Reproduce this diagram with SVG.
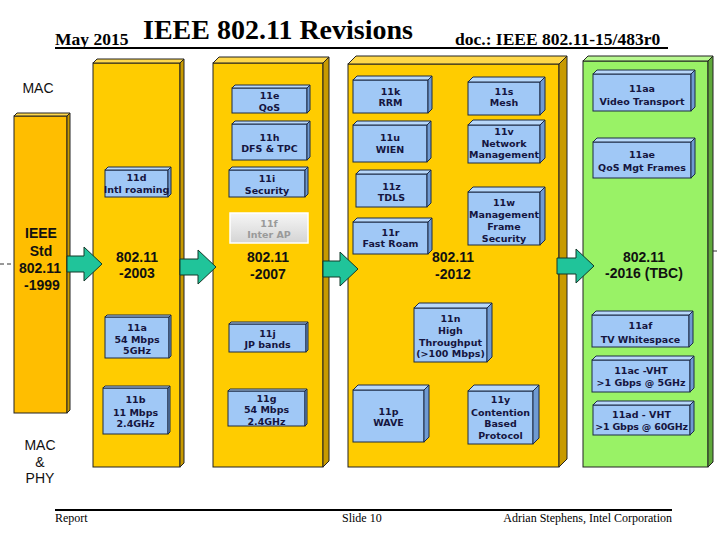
<svg xmlns="http://www.w3.org/2000/svg" width="720" height="540" viewBox="0 0 720 540">
<style>
.col{fill:#FFCC00;stroke:#222;stroke-width:1}
.col1{fill:#FFBE00;stroke:#222;stroke-width:1}
.ctop{fill:#FFD84A;stroke:#222;stroke-width:1}
.cside{fill:#C89A00;stroke:#222;stroke-width:1}
.gcol{fill:#99F266;stroke:#222;stroke-width:1}
.gtop{fill:#B8F890;stroke:#222;stroke-width:1}
.gside{fill:#5FA83A;stroke:#222;stroke-width:1}
.bf{fill:#A0C8F6;stroke:#1C2A44;stroke-width:1}
.bt{fill:#B8D8FA;stroke:#1C2A44;stroke-width:1}
.bs{fill:#6F9AD2;stroke:#1C2A44;stroke-width:1}
.tx{font-family:"DejaVu Sans",Verdana,sans-serif;font-weight:bold;font-size:9.5px;fill:#15153F;text-anchor:middle}
.cl{font-family:"Liberation Sans",Arial,sans-serif;font-weight:bold;font-size:14px;fill:#111;text-anchor:middle}
.lab{font-family:"Liberation Sans",Arial,sans-serif;font-size:14px;fill:#111;text-anchor:middle}
.hd{font-family:"Liberation Serif","Times New Roman",serif;font-weight:bold;fill:#000}
.ft{font-family:"Liberation Serif","Times New Roman",serif;font-size:12px;fill:#000}
.arr{fill:#20C49A;stroke:#123828;stroke-width:1}
</style>
<defs>
<linearGradient id="gf" x1="0" y1="0" x2="0" y2="1">
<stop offset="0" stop-color="#F6F6F6"/>
<stop offset="1" stop-color="#D4D4D4"/>
</linearGradient>
</defs>
<rect width="720" height="540" fill="#FFFFFF"/>

<g id="header">
<text class="hd" x="55" y="45" font-size="17.5">May 2015</text>
<text class="hd" x="143" y="39" font-size="28">IEEE 802.11 Revisions</text>
<text class="hd" x="455" y="45" font-size="17.5">doc.: IEEE 802.11-15/483r0</text>
<line x1="55" y1="48" x2="668" y2="48" stroke="#000" stroke-width="2"/>
</g>

<g id="separators" stroke="#333" stroke-width="1" stroke-dasharray="4,3">
<line x1="0" y1="264" x2="14" y2="264"/>
<line x1="713" y1="251" x2="720" y2="251"/>
</g>

<g id="labels">
<text class="lab" x="38" y="93">MAC</text>
<text class="lab" x="40" y="450">MAC</text>
<text class="lab" x="40" y="467">&amp;</text>
<text class="lab" x="40" y="483">PHY</text>
</g>

<g id="col-1999">
<rect class="col1" x="14" y="116" width="53" height="297"/>
<polygon class="ctop" points="14,116 17,113 70,113 67,116"/>
<polygon class="cside" points="67,116 70,113 70,410 67,413"/>
<text class="cl" x="41" y="238">IEEE</text>
<text class="cl" x="41" y="256">Std</text>
<text class="cl" x="40" y="273">802.11</text>
<text class="cl" x="42" y="290">-1999</text>
</g>

<g id="col-2003">
<rect class="col" x="93" y="63" width="87" height="404"/>
<polygon class="ctop" points="93,63 97,59 184,59 180,63"/>
<polygon class="cside" points="180,63 184,59 184,463 180,467"/>
<text class="cl" x="137" y="262">802.11</text>
<text class="cl" x="137" y="278">-2003</text>
</g>

<g id="col-2007">
<rect class="col" x="213" y="63" width="110" height="404"/>
<polygon class="ctop" points="213,63 219,57 329,57 323,63"/>
<polygon class="cside" points="323,63 329,57 329,461 323,467"/>
<text class="cl" x="268" y="262">802.11</text>
<text class="cl" x="268" y="279">-2007</text>
</g>

<g id="col-2012">
<rect class="col" x="348" y="64" width="211" height="403"/>
<polygon class="ctop" points="348,64 356,56 567,56 559,64"/>
<polygon class="cside" points="559,64 567,56 567,459 559,467"/>
<text class="cl" x="453" y="262">802.11</text>
<text class="cl" x="453" y="279">-2012</text>
</g>

<g id="col-2016">
<rect class="gcol" x="583" y="61" width="125" height="406"/>
<polygon class="gtop" points="583,61 588,56 713,56 708,61"/>
<polygon class="gside" points="708,61 713,56 713,462 708,467"/>
<text class="cl" x="644" y="262">802.11</text>
<text class="cl" x="644" y="278">-2016 (TBC)</text>
</g>

<g id="connectors">
<polygon class="arr" points="67,256 84,256 84,247 102,264 84,281 84,272 67,272"/>
<polygon class="arr" points="180,259 198,259 198,250 216,267 198,284 198,275 180,275"/>
<polygon class="arr" points="323,261 340,261 340,252 358,269 340,286 340,277 323,277"/>
<polygon class="arr" points="557,258 576,258 576,249 594,266 576,283 576,274 557,274"/>
</g>

<g id="n11d">
<rect class="bf" x="105" y="170" width="63" height="27"/>
<polygon class="bt" points="105,170 108,167 171,167 168,170"/>
<polygon class="bs" points="168,170 171,167 171,194 168,197"/>
<text class="tx" x="136.5" y="180.5">11d</text>
<text class="tx" x="136.5" y="192.5">Intl roaming</text>
</g>

<g id="n11e">
<rect class="bf" x="232" y="88" width="75" height="25"/>
<polygon class="bt" points="232,88 235,85 310,85 307,88"/>
<polygon class="bs" points="307,88 310,85 310,110 307,113"/>
<text class="tx" x="269.5" y="98.5">11e</text>
<text class="tx" x="269.5" y="110.5">QoS</text>
</g>

<g id="n11h">
<rect class="bf" x="232" y="124" width="75" height="36"/>
<polygon class="bt" points="232,124 235,121 310,121 307,124"/>
<polygon class="bs" points="307,124 310,121 310,157 307,160"/>
<text class="tx" x="269.5" y="140.5">11h</text>
<text class="tx" x="269.5" y="151.5">DFS &amp; TPC</text>
</g>

<g id="n11i">
<rect class="bf" x="229" y="170" width="76" height="27"/>
<polygon class="bt" points="229,170 232,167 308,167 305,170"/>
<polygon class="bs" points="305,170 308,167 308,194 305,197"/>
<text class="tx" x="267" y="181.5">11i</text>
<text class="tx" x="267" y="193.5">Security</text>
</g>

<g id="n11f">
<rect x="230" y="213" width="78" height="30" fill="url(#gf)" stroke="#FFFFFF" stroke-width="1.5"/>
<text class="tx" x="269" y="226.5" style="fill:#9A9A9A">11f</text>
<text class="tx" x="269" y="237.5" style="fill:#9A9A9A">Inter AP</text>
</g>

<g id="n11k">
<rect class="bf" x="353" y="80" width="75" height="33"/>
<polygon class="bt" points="353,80 357,76 432,76 428,80"/>
<polygon class="bs" points="428,80 432,76 432,109 428,113"/>
<text class="tx" x="390.5" y="94.5">11k</text>
<text class="tx" x="390.5" y="105.5">RRM</text>
</g>

<g id="n11u">
<rect class="bf" x="353" y="125" width="74" height="37"/>
<polygon class="bt" points="353,125 357,121 431,121 427,125"/>
<polygon class="bs" points="427,125 431,121 431,158 427,162"/>
<text class="tx" x="390" y="140.5">11u</text>
<text class="tx" x="390" y="152.5">WIEN</text>
</g>

<g id="n11z">
<rect class="bf" x="356" y="174" width="71" height="33"/>
<polygon class="bt" points="356,174 360,170 431,170 427,174"/>
<polygon class="bs" points="427,174 431,170 431,203 427,207"/>
<text class="tx" x="391.5" y="189.5">11z</text>
<text class="tx" x="391.5" y="200.5">TDLS</text>
</g>

<g id="n11r">
<rect class="bf" x="353" y="222" width="75" height="32"/>
<polygon class="bt" points="353,222 357,218 432,218 428,222"/>
<polygon class="bs" points="428,222 432,218 432,250 428,254"/>
<text class="tx" x="390.5" y="235.5">11r</text>
<text class="tx" x="390.5" y="246.5">Fast Roam</text>
</g>

<g id="n11s">
<rect class="bf" x="468" y="82" width="72" height="33"/>
<polygon class="bt" points="468,82 473,77 545,77 540,82"/>
<polygon class="bs" points="540,82 545,77 545,110 540,115"/>
<text class="tx" x="504" y="94.5">11s</text>
<text class="tx" x="504" y="105.5">Mesh</text>
</g>

<g id="n11v">
<rect class="bf" x="468" y="125" width="72" height="38"/>
<polygon class="bt" points="468,125 473,120 545,120 540,125"/>
<polygon class="bs" points="540,125 545,120 545,158 540,163"/>
<text class="tx" x="504" y="134.5">11v</text>
<text class="tx" x="504" y="146.5">Network</text>
<text class="tx" x="504" y="157.5">Management</text>
</g>

<g id="n11w">
<rect class="bf" x="468" y="192" width="72" height="53"/>
<polygon class="bt" points="468,192 473,187 545,187 540,192"/>
<polygon class="bs" points="540,192 545,187 545,240 540,245"/>
<text class="tx" x="504" y="205.5">11w</text>
<text class="tx" x="504" y="217.5">Management</text>
<text class="tx" x="504" y="229.5">Frame</text>
<text class="tx" x="504" y="241.5">Security</text>
</g>

<g id="n11aa">
<rect class="bf" x="593" y="74" width="98" height="37"/>
<polygon class="bt" points="593,74 597,70 695,70 691,74"/>
<polygon class="bs" points="691,74 695,70 695,107 691,111"/>
<text class="tx" x="642" y="91.5">11aa</text>
<text class="tx" x="642" y="104.5">Video Transport</text>
</g>

<g id="n11ae">
<rect class="bf" x="593" y="142" width="98" height="36"/>
<polygon class="bt" points="593,142 597,138 695,138 691,142"/>
<polygon class="bs" points="691,142 695,138 695,174 691,178"/>
<text class="tx" x="642" y="157.5">11ae</text>
<text class="tx" x="642" y="170.5">QoS Mgt Frames</text>
</g>

<g id="n11a">
<rect class="bf" x="105" y="317" width="64" height="41"/>
<polygon class="bt" points="105,317 107,315 171,315 169,317"/>
<polygon class="bs" points="169,317 171,315 171,356 169,358"/>
<text class="tx" x="137" y="330.5">11a</text>
<text class="tx" x="137" y="342.5">54 Mbps</text>
<text class="tx" x="137" y="353.5">5GHz</text>
</g>

<g id="n11b">
<rect class="bf" x="103" y="388" width="65" height="46"/>
<polygon class="bt" points="103,388 105,386 170,386 168,388"/>
<polygon class="bs" points="168,388 170,386 170,432 168,434"/>
<text class="tx" x="135.5" y="402.5">11b</text>
<text class="tx" x="135.5" y="415.5">11 Mbps</text>
<text class="tx" x="135.5" y="426.5">2.4GHz</text>
</g>

<g id="n11j">
<rect class="bf" x="229" y="324" width="77" height="28"/>
<polygon class="bt" points="229,324 231,322 308,322 306,324"/>
<polygon class="bs" points="306,324 308,322 308,350 306,352"/>
<text class="tx" x="267.5" y="336.5">11j</text>
<text class="tx" x="267.5" y="347.5">JP bands</text>
</g>

<g id="n11g">
<rect class="bf" x="228" y="391" width="77" height="35"/>
<polygon class="bt" points="228,391 230,389 307,389 305,391"/>
<polygon class="bs" points="305,391 307,389 307,424 305,426"/>
<text class="tx" x="266.5" y="401.5">11g</text>
<text class="tx" x="266.5" y="412.5">54 Mbps</text>
<text class="tx" x="266.5" y="424.5">2.4GHz</text>
</g>

<g id="n11p">
<rect class="bf" x="353" y="390" width="71" height="52"/>
<polygon class="bt" points="353,390 358,385 429,385 424,390"/>
<polygon class="bs" points="424,390 429,385 429,437 424,442"/>
<text class="tx" x="388.5" y="414.5">11p</text>
<text class="tx" x="388.5" y="425.5">WAVE</text>
</g>

<g id="n11n">
<rect class="bf" x="414" y="308" width="73" height="54"/>
<polygon class="bt" points="414,308 419,303 492,303 487,308"/>
<polygon class="bs" points="487,308 492,303 492,357 487,362"/>
<text class="tx" x="450.5" y="321.5">11n</text>
<text class="tx" x="450.5" y="333.5">High</text>
<text class="tx" x="450.5" y="345.5">Throughput</text>
<text class="tx" x="450.5" y="356.5">(&gt;100 Mbps)</text>
</g>

<g id="n11y">
<rect class="bf" x="468" y="391" width="65" height="53"/>
<polygon class="bt" points="468,391 474,385 539,385 533,391"/>
<polygon class="bs" points="533,391 539,385 539,438 533,444"/>
<text class="tx" x="500.5" y="402.5">11y</text>
<text class="tx" x="500.5" y="415.5">Contention</text>
<text class="tx" x="500.5" y="426.5">Based</text>
<text class="tx" x="500.5" y="438.5">Protocol</text>
</g>

<g id="n11af">
<rect class="bf" x="592" y="315" width="97" height="32"/>
<polygon class="bt" points="592,315 596,311 693,311 689,315"/>
<polygon class="bs" points="689,315 693,311 693,343 689,347"/>
<text class="tx" x="640.5" y="328.5">11af</text>
<text class="tx" x="640.5" y="342.5">TV Whitespace</text>
</g>

<g id="n11ac">
<rect class="bf" x="592" y="360" width="98" height="32"/>
<polygon class="bt" points="592,360 596,356 694,356 690,360"/>
<polygon class="bs" points="690,360 694,356 694,388 690,392"/>
<text class="tx" x="641" y="373.5">11ac -VHT</text>
<text class="tx" x="641" y="385.5">&gt;1 Gbps @ 5GHz</text>
</g>

<g id="n11ad">
<rect class="bf" x="593" y="405" width="97" height="30"/>
<polygon class="bt" points="593,405 597,401 694,401 690,405"/>
<polygon class="bs" points="690,405 694,401 694,431 690,435"/>
<text class="tx" x="641.5" y="417.5">11ad - VHT</text>
<text class="tx" x="641.5" y="429.5" letter-spacing="-0.2">&gt;1 Gbps @ 60GHz</text>
</g>

<g id="footer">
<line x1="55" y1="510" x2="672" y2="510" stroke="#000" stroke-width="2"/>
<text class="ft" x="55" y="522">Report</text>
<text class="ft" x="342" y="522">Slide 10</text>
<text class="ft" x="672" y="522" text-anchor="end">Adrian Stephens, Intel Corporation</text>
</g>
</svg>
